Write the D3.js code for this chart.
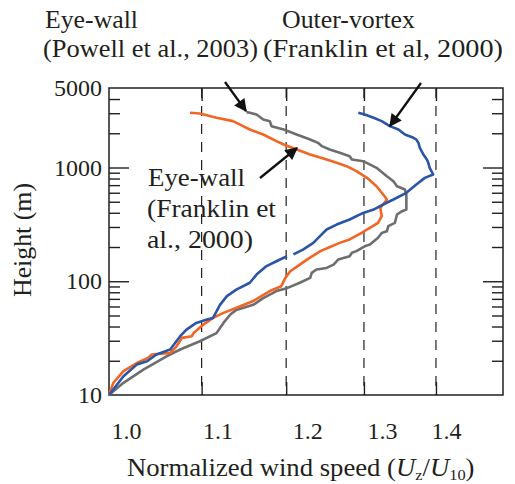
<!DOCTYPE html>
<html><head><meta charset="utf-8">
<script src="https://cdn.jsdelivr.net/npm/d3@7"></script>
<style>body{margin:0;background:#fff}svg{display:block}text{font-family:"Liberation Serif","Times New Roman",serif;fill:#231f20}</style>
</head><body><svg id="c" width="515" height="484"></svg>
<script>
// ---- data ----
const powellU = [1.152,1.156,1.164,1.172,1.180,1.182,1.197,1.213,1.230,1.240,1.245,1.255,1.268,1.281,1.284,1.299,1.317,1.331,1.340,1.345,1.356,1.358,1.358,1.352,1.345,1.342,1.333,1.331,1.324,1.319,1.308,1.301,1.290,1.284,1.281,1.266,1.260,1.251,1.238,1.232,1.230,1.217,1.201,1.188,1.172,1.160,1.140,1.133,1.125,1.117,1.098,1.076,1.061,1.036,1.015,1.000];
const powellH = [3067,3026,2926,2644,2556,2310,2160,1951,1763,1648,1540,1440,1346,1258,1176,1137,993,839,758,685,640,579,427,413,386,326,305,275,266,241,210,203,184,178,166,155,140,131,127,118.5,107,97,87,82,71,62,56,51,43,35,29.7,25.1,21.9,16.7,12.8,10];
const franklinEyeU = [1.087,1.098,1.117,1.136,1.148,1.156,1.172,1.188,1.197,1.213,1.230,1.251,1.264,1.277,1.290,1.304,1.317,1.326,1.331,1.326,1.322,1.324,1.319,1.304,1.297,1.281,1.268,1.253,1.243,1.226,1.217,1.205,1.199,1.194,1.180,1.160,1.144,1.125,1.113,1.102,1.091,1.089,1.078,1.072,1.065,1.045,1.041,1.029,1.015,1.0045,1.000];
const franklinEyeH = [3026,2985,2735,2556,2310,2160,1951,1705,1593,1440,1301,1176,1099,1027,929,811,685,579,523,473,442,373,326,285,266,233,217.5,197,184,155,140,122.5,107,90.5,82,67,60,52.7,47.6,41.6,35.1,32.9,31.8,26.8,23.4,22.7,21.2,19.1,16.2,12.8,10];
const outerU = [1.2925,1.301,1.313,1.324,1.335,1.347,1.356,1.368,1.372,1.375,1.377,1.382,1.387,1.389,1.391,1.396,1.384,1.372,1.358,1.340,1.326,1.313,1.299,1.281,1.264,1.251,1.2425,1.234,1.221,1.209,null,1.201,1.188,1.176,1.164,1.156,1.140,1.129,1.121,1.113,1.106,1.094,1.083,1.076,1.065,1.050,1.040,1.029,1.015,1.000];
const outerH = [3026,2926,2735,2556,2310,2160,1951,1824,1763,1648,1489,1301,1176,1099,993,868,811,709,599,523,473,427,399,349,315,285,249,217.5,190,172,null,166,150,136,114.5,97,84.5,74,62,47.6,46,43,37.6,32.9,25.1,22.7,19.8,18.5,14.6,10];
const xTicks = [1.0,1.1,1.2,1.3,1.4];
const xGrid = [1.1,1.2,1.3,1.4];
const yLabelTicks = [10,100,1000,5000];
const yMajor = [100,1000];
const yMinor = [20,30,40,50,60,70,80,90,200,300,400,500,600,700,800,900,2000,3000,4000];

// ---- layout ----
const L=109,R=503,T=88,B=395;
const svg=d3.select("#c");
const x=d3.scaleLog().domain([1.0,1.5]).range([L,R]);
const y=d3.scaleLog().domain([10,5000]).range([B,T]);

// dashed verticals
svg.append("g").selectAll("line").data(xGrid).join("line")
  .attr("x1",d=>x(d)).attr("x2",d=>x(d)).attr("y1",T).attr("y2",B)
  .attr("stroke","#231f20").attr("stroke-width",1.2).attr("stroke-dasharray","10,8");

function clean(g){g.select(".domain").remove();g.selectAll("line").attr("stroke","#231f20").attr("stroke-width",1.4);}
svg.append("g").attr("transform",`translate(${L},0)`).call(d3.axisLeft(y).tickValues(yMinor).tickSize(-11).tickFormat("")).call(clean);
svg.append("g").attr("transform",`translate(${L},0)`).call(d3.axisLeft(y).tickValues(yMajor).tickSize(-20).tickFormat("")).call(clean);
svg.append("g").attr("transform",`translate(${R},0)`).call(d3.axisRight(y).tickValues(yMinor).tickSize(-11).tickFormat("")).call(clean);
svg.append("g").attr("transform",`translate(${R},0)`).call(d3.axisRight(y).tickValues(yMajor).tickSize(-20).tickFormat("")).call(clean);
svg.append("g").attr("transform",`translate(0,${B})`).call(d3.axisBottom(x).tickValues(xGrid).tickSize(-13).tickFormat("")).call(clean);
svg.append("g").attr("transform",`translate(0,${T})`).call(d3.axisTop(x).tickValues(xGrid).tickSize(-13).tickFormat("")).call(clean);

// y labels
const gyl=svg.append("g").attr("transform",`translate(${L},0)`).call(d3.axisLeft(y).tickValues(yLabelTicks).tickSize(0).tickPadding(7).tickFormat(d3.format("d")));
gyl.select(".domain").remove();
gyl.selectAll("text").attr("font-size",24).attr("font-family","Liberation Serif").attr("fill","#231f20");
// x labels (nudged as in the original print)
const nudge={1.0:17,1.1:16,1.2:21,1.3:18,1.4:10};
const gxl=svg.append("g").attr("transform",`translate(0,${B})`).call(d3.axisBottom(x).tickValues(xTicks).tickSize(0).tickPadding(27).tickFormat(d3.format(".1f")));
gxl.select(".domain").remove();
gxl.selectAll("text").attr("font-size",24).attr("font-family","Liberation Serif").attr("fill","#231f20").attr("dx",d=>nudge[d]);

// frame
svg.append("rect").attr("x",L).attr("y",T).attr("width",R-L).attr("height",B-T).attr("fill","none").attr("stroke","#231f20").attr("stroke-width",1.5);

// curves
const line=d3.line().defined(d=>d[0]!=null).x(d=>x(d[0])).y(d=>y(d[1]));
const series=[
  {u:powellU,h:powellH,c:"#6d6e70"},
  {u:franklinEyeU,h:franklinEyeH,c:"#f26522"},
  {u:outerU,h:outerH,c:"#2b55a6"}
];
series.forEach(s=>{
  svg.append("path").datum(s.u.map((u,i)=>[u,s.h[i]])).attr("d",line)
    .attr("fill","none").attr("stroke",s.c).attr("stroke-width",2.6).attr("stroke-linejoin","round");
});

// arrows
svg.append("defs").append("marker").attr("id","ah").attr("viewBox","0 0 10 10").attr("refX",9).attr("refY",5)
  .attr("markerWidth",6.5).attr("markerHeight",5.5).attr("orient","auto")
  .append("path").attr("d","M0,0L10,5L0,10z").attr("fill","#111");
const arrows=[[225,82,246,111],[421,83,390,126],[260,178,297,148]];
svg.append("g").selectAll("line").data(arrows).join("line")
  .attr("x1",d=>d[0]).attr("y1",d=>d[1]).attr("x2",d=>d[2]).attr("y2",d=>d[3])
  .attr("stroke","#111").attr("stroke-width",2.3).attr("marker-end","url(#ah)");

// annotations (widths matched to the print)
function txt(xp,yp,s,w){
  svg.append("text").attr("x",xp).attr("y",yp).attr("font-size",25)
    .attr("textLength",w).attr("lengthAdjust","spacingAndGlyphs").text(s);
}
txt(45,28,"Eye-wall",93);
txt(43,57,"(Powell et al., 2003)",215);
txt(282,28,"Outer-vortex",133);
txt(263,57,"(Franklin et al, 2000)",240);
txt(148,186,"Eye-wall",97);
txt(147,217,"(Franklin et",129);
txt(147,248,"al., 2000)",106);

// axis titles
svg.append("text").attr("transform","translate(31,240) rotate(-90)").attr("text-anchor","middle").attr("font-size",25)
  .attr("textLength",114).attr("lengthAdjust","spacingAndGlyphs").text("Height (m)");
const xt=svg.append("text").attr("transform","translate(127,476) scale(1.09,1)").attr("font-size",24.5);
xt.append("tspan").text("Normalized wind speed (");
xt.append("tspan").attr("font-style","italic").text("U");
xt.append("tspan").attr("font-size",15).attr("dy",3.5).text("z");
xt.append("tspan").attr("dy",-3.5).text("/");
xt.append("tspan").attr("font-style","italic").text("U");
xt.append("tspan").attr("font-size",15).attr("dy",3.5).text("10");
xt.append("tspan").attr("dy",-3.5).text(")");
</script></body></html>
